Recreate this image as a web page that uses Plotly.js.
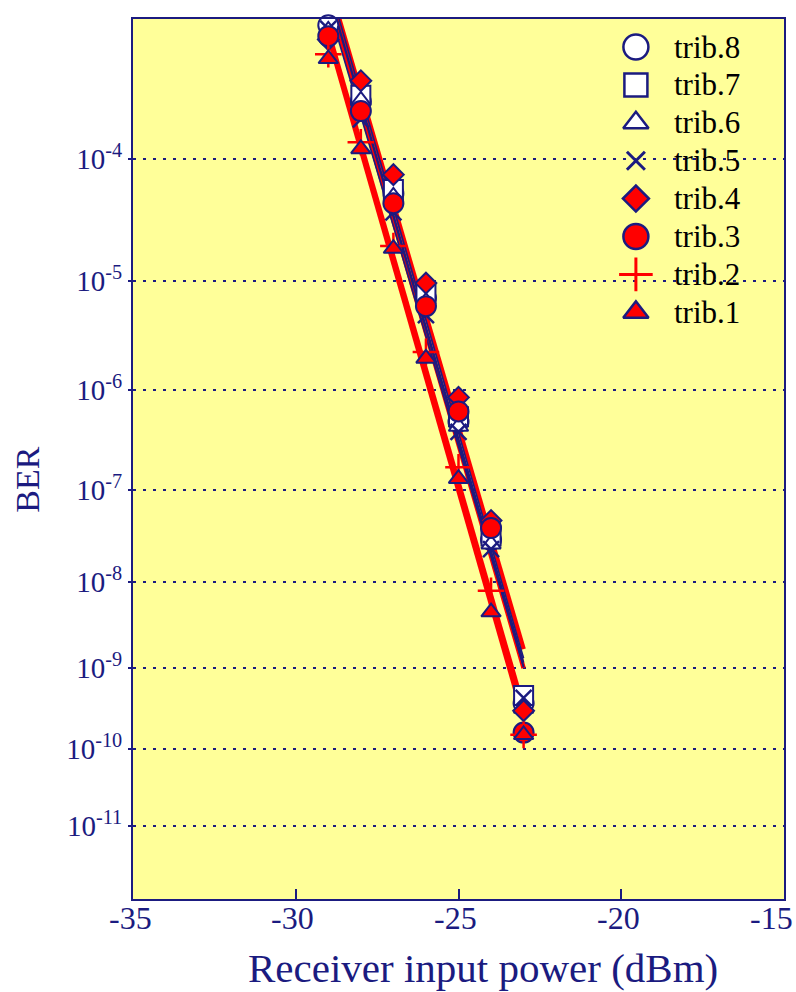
<!DOCTYPE html>
<html><head><meta charset="utf-8">
<script src="https://cdn.plot.ly/plotly-3.0.1.min.js"></script>
<style>html,body{margin:0;padding:0;background:#fff}</style>
</head><body><div id="chart" style="width:796px;height:992px"></div>
<script>
// ---- data (BER) ----
const power = [-29, -28, -27, -26, -25, -24, -23];
const trib8 = [9.1e-4, 2.7e-4, 5.4e-5, 7.1e-6, 4.9e-7, 2.9e-8, 3.7e-10];
const trib7 = [1.1e-3, 3.0e-4, 5.8e-5, 7.8e-6, 5.5e-7, 3.2e-8, 4.6e-10];
const trib6 = [8.4e-4, 2.75e-4, 5.1e-5, 6.6e-6, 4.4e-7, 2.6e-8, 3.2e-10];
const trib5 = [8.6e-4, 2.0e-4, 3.8e-5, 5.0e-6, 3.9e-7, 2.3e-8, 4.3e-10];
const trib4 = [7.3e-4, 3.8e-4, 7.6e-5, 9.6e-6, 8.5e-7, 4.7e-8, 3.0e-10];
const trib3 = [7.7e-4, 2.3e-4, 4.5e-5, 6.0e-6, 6.2e-7, 3.9e-8, 1.6e-10];
const trib2 = [5.8e-4, 1.35e-4, 2.0e-5, 2.3e-6, 1.7e-7, 7.9e-9, 1.5e-10];
const trib1 = [5.4e-4, 1.2e-4, 1.9e-5, 2.0e-6, 1.3e-7, 4.5e-9, 1.5e-10];
const seriesNames = ['trib.8', 'trib.7', 'trib.6', 'trib.5', 'trib.4', 'trib.3', 'trib.2', 'trib.1'];
const berTicks = [1e-4, 1e-5, 1e-6, 1e-7, 1e-8, 1e-9, 1e-10, 1e-11];
const berTickLabels = ['10<sup>-4</sup>', '10<sup>-5</sup>', '10<sup>-6</sup>', '10<sup>-7</sup>',
  '10<sup>-8</sup>', '10<sup>-9</sup>', '10<sup>-10</sup>', '10<sup>-11</sup>'];
const berRange = [1e-12, 1e-3];
const xTicks = [-35, -30, -25, -20, -15];
const xTickLabels = ['-35', '-30', '-25', '-20', '-15'];

// ---- BER <-> Q (probability) scale ----
function erfc(x) {
  const z = Math.abs(x), t = 1 / (1 + 0.5 * z);
  const r = t * Math.exp(-z * z - 1.26551223 + t * (1.00002368 + t * (0.37409196 + t * (0.09678418 +
    t * (-0.18628806 + t * (0.27886807 + t * (-1.13520398 + t * (1.48851587 + t * (-0.82215223 + t * 0.17087277)))))))));
  return x >= 0 ? r : 2 - r;
}
function qFromBer(ber) {
  let lo = 0, hi = 12;
  const target = Math.log(ber);
  for (let i = 0; i < 80; i++) {
    const mid = (lo + hi) / 2;
    if (Math.log(0.5 * erfc(mid / Math.SQRT2)) > target) lo = mid; else hi = mid;
  }
  return (lo + hi) / 2;
}

const NAVY = '#1b1b80', RED = '#ff0000';
const allSeries = [trib8, trib7, trib6, trib5, trib4, trib3, trib2, trib1];
const styles = [
  {symbol: 'circle', color: '#ffffff', line: NAVY, lc: NAVY, size: 20, lsize: 25},
  {symbol: 'square', color: '#ffffff', line: NAVY, lc: NAVY, size: 19, lsize: 23},
  {symbol: 'triangle-up', color: '#ffffff', line: NAVY, lc: NAVY, size: 17, lsize: 22},
  {symbol: 'x-thin', color: NAVY, line: NAVY, lc: NAVY, size: 16, lsize: 18},
  {symbol: 'diamond', color: RED, line: NAVY, lc: RED, size: 16, lsize: 20},
  {symbol: 'circle', color: RED, line: NAVY, lc: RED, size: 20, lsize: 25},
  {symbol: 'cross-thin', color: RED, line: RED, lc: RED, size: 19, lsize: 24},
  {symbol: 'triangle-up', color: RED, line: NAVY, lc: RED, size: 17, lsize: 22}
];

function fit(xs, ys) {
  const n = xs.length;
  const mx = xs.reduce((a, b) => a + b, 0) / n, my = ys.reduce((a, b) => a + b, 0) / n;
  let sxy = 0, sxx = 0;
  for (let i = 0; i < n; i++) { sxy += (xs[i] - mx) * (ys[i] - my); sxx += (xs[i] - mx) ** 2; }
  const b = sxy / sxx;
  return x => my + b * (x - mx);
}

const lineTraces = [], markerTraces = [];
const xmin = Math.min(...power), xmax = Math.max(...power);
allSeries.forEach((s, i) => {
  const q = s.map(qFromBer);
  const f = fit(power, q);
  const st = styles[i];
  lineTraces.push({
    x: [xmin, xmax], y: [f(xmin), f(xmax)], mode: 'lines', showlegend: false, hoverinfo: 'skip',
    line: {color: st.lc, width: st.lc === RED ? 4.5 : 1.6}
  });
  const thin = st.symbol.indexOf('thin') >= 0;
  markerTraces.push({
    x: power, y: q, mode: 'markers', name: seriesNames[i], cliponaxis: false, showlegend: false,
    marker: {symbol: st.symbol, size: st.size, color: st.color,
      line: {color: st.line, width: thin ? 2.5 : 2}}
  });
});
const redLines = lineTraces.slice(4), navyLines = lineTraces.slice(0, 4);

// ---- legend drawn on an overlay frame (0..1 axes) ----
const legX = 0.7725, legTextX = 0.828, legTopPx = 47, legStepPx = 37.9, plotTopPx = 19, plotH = 880;
const legendY = seriesNames.map((_, i) => 1 - (legTopPx - plotTopPx + i * legStepPx) / plotH);
const legendTraces = seriesNames.map((nm, i) => ({
  x: [legX], y: [legendY[i]], xaxis: 'x2', yaxis: 'y2', mode: 'markers', showlegend: false,
  hoverinfo: 'skip', cliponaxis: false,
  marker: {symbol: styles[i].symbol, size: styles[i].lsize, color: styles[i].color,
    line: {color: styles[i].line, width: styles[i].symbol.indexOf('thin') >= 0 ? 3 : 2.5}}
}));

const data = [...redLines, ...navyLines, ...markerTraces, ...legendTraces];

const FONT = 'Liberation Serif, Times New Roman, serif';
const legendAnn = seriesNames.map((nm, i) => ({
  text: nm, xref: 'paper', yref: 'paper', x: legTextX, y: legendY[i], xanchor: 'left', yanchor: 'middle',
  showarrow: false, font: {family: FONT, size: 31, color: '#000000'}
}));
// x tick labels placed on the x scale; the last one is kept inside the page edge
const xTickAnn = xTicks.map((v, i) => {
  const last = i === xTicks.length - 1;
  return {text: xTickLabels[i], xref: 'x', yref: 'paper', x: v, y: 0, yanchor: 'middle', yshift: -19,
    xanchor: last ? 'right' : 'center', xshift: last ? 11 : -3, showarrow: false,
    font: {family: FONT, size: 32, color: NAVY}};
});
const layout = {
  width: 796, height: 992,
  margin: {l: 133, r: 12, t: 19, b: 93},
  paper_bgcolor: '#ffffff', plot_bgcolor: '#ffff99',
  showlegend: false,
  xaxis: {
    range: [-35, -15], tickvals: xTicks, showticklabels: false,
    ticks: 'inside', ticklen: 10, tickwidth: 2, tickcolor: NAVY,
    showline: true, linecolor: NAVY, linewidth: 2, mirror: true,
    showgrid: false, zeroline: false
  },
  yaxis: {
    range: [qFromBer(berRange[0]), qFromBer(berRange[1])],
    tickvals: berTicks.map(qFromBer), ticktext: berTickLabels,
    ticks: 'outside', ticklen: 3, tickwidth: 2, tickcolor: NAVY,
    showline: true, linecolor: NAVY, linewidth: 2, mirror: true,
    showgrid: true, gridcolor: NAVY, gridwidth: 2, griddash: '3px,7px', zeroline: false,
    tickfont: {family: FONT, size: 29, color: NAVY}
  },
  xaxis2: {overlaying: 'x', range: [0, 1], visible: false, fixedrange: true},
  yaxis2: {overlaying: 'y', range: [0, 1], visible: false, fixedrange: true},
  annotations: [
    {text: 'Receiver input power (dBm)', xref: 'paper', yref: 'paper', x: 0.537, y: -0.078,
      xanchor: 'center', yanchor: 'middle', showarrow: false,
      font: {family: FONT, size: 41, color: NAVY}},
    {text: 'BER', xref: 'paper', yref: 'paper', x: -0.162, y: 0.476, textangle: -90,
      xanchor: 'center', yanchor: 'middle', showarrow: false,
      font: {family: FONT, size: 34, color: NAVY}},
    ...xTickAnn,
    ...legendAnn
  ]
};
Plotly.newPlot('chart', data, layout, {displayModeBar: false, staticPlot: true});
</script></body></html>
